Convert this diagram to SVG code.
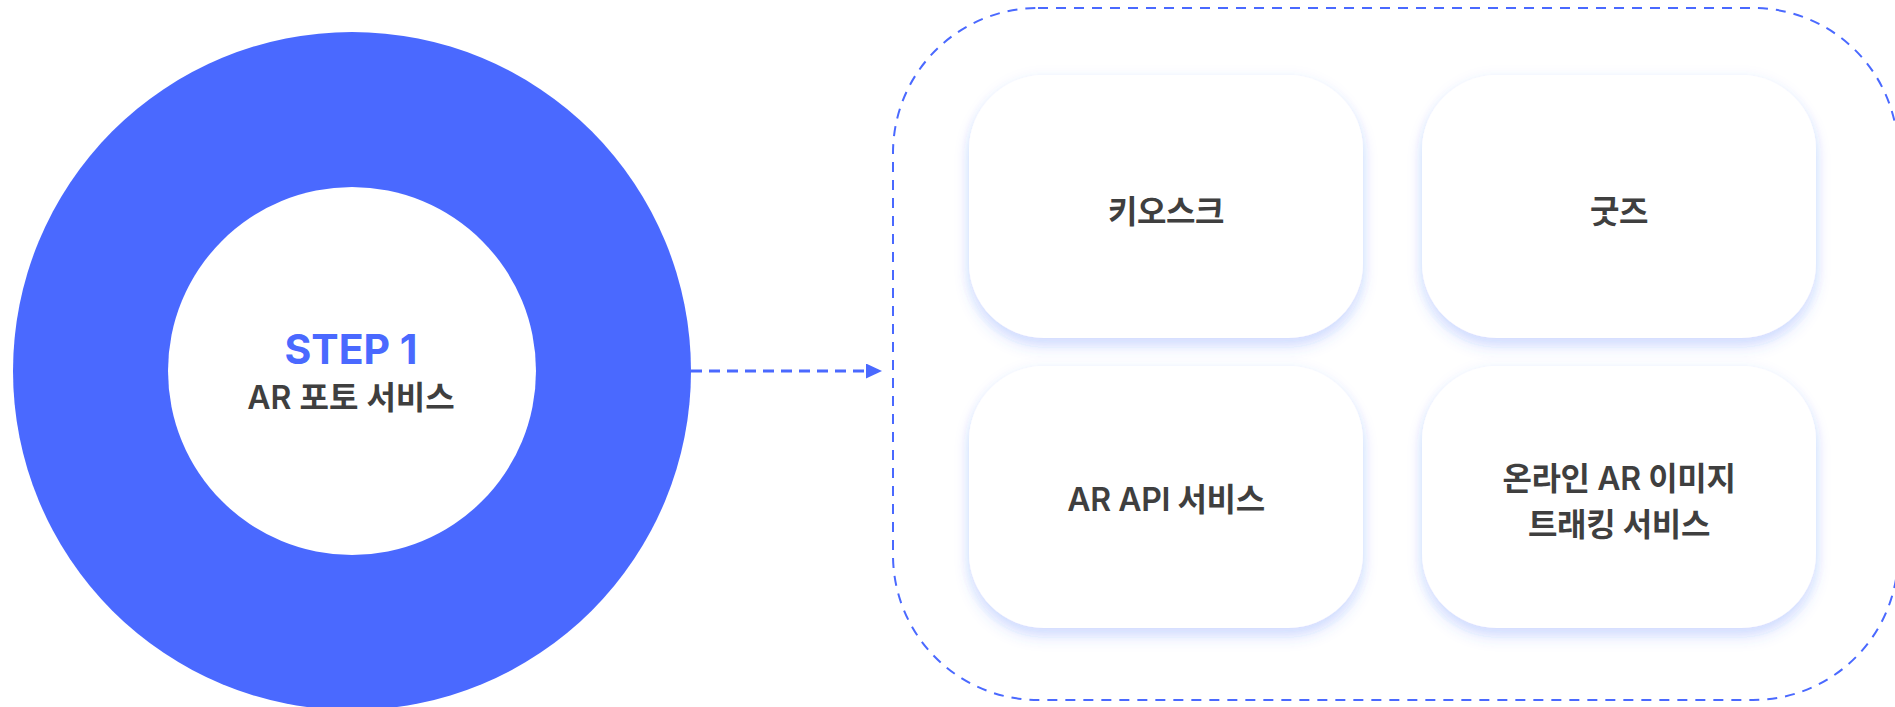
<svg xmlns="http://www.w3.org/2000/svg" width="1895" height="707" viewBox="0 0 1895 707">
<defs>
<filter id="cardShadow" x="-20%" y="-20%" width="140%" height="150%">
<feDropShadow dx="0" dy="0" stdDeviation="6" flood-color="#4a69ff" flood-opacity="0.06"/>
<feDropShadow dx="0" dy="9" stdDeviation="7" flood-color="#4a69ff" flood-opacity="0.2"/>
</filter>
<marker id="arrow" viewBox="0 0 16 15" refX="0" refY="7.5" markerWidth="16" markerHeight="15" markerUnits="userSpaceOnUse" orient="auto">
<polygon points="0,0 16,7.5 0,15" fill="#4a69ff"/>
</marker>
</defs>
<style>
.card{fill:#ffffff;filter:url(#cardShadow);}
.lbl{font-family:"Inter","Noto Sans CJK KR","Noto Sans",sans-serif;font-size:32px;font-weight:600;fill:#3f3f3f;text-anchor:middle;letter-spacing:-0.4px;}
.step{font-family:"Inter","Noto Sans",sans-serif;font-size:41px;font-weight:700;fill:#4a69ff;text-anchor:middle;}
.dash{fill:none;stroke:#4a69ff;stroke-width:2;stroke-dasharray:10 8;}
</style>
<rect width="1895" height="707" fill="#ffffff"/>
<g id="step1">
<circle cx="352" cy="371" r="339" fill="#4a69ff"/>
<circle cx="352" cy="371" r="184" fill="#ffffff"/>
<text class="step" x="351" y="364">STEP 1</text>
<text class="lbl" x="351" y="409" style="letter-spacing:0">AR 포토 서비스</text>
</g>
<g id="container">
<rect class="dash" x="893" y="8" width="1005" height="692" rx="145" ry="145"/>
</g>
<g id="connectors">
<line x1="691" y1="371" x2="866" y2="371" stroke="#4a69ff" stroke-width="3" stroke-dasharray="11 7" marker-end="url(#arrow)"/>
</g>
<g id="kiosk">
<rect class="card" x="969" y="75" width="394" height="263" rx="75" ry="75"/>
<text class="lbl" x="1166" y="223">키오스크</text>
</g>
<g id="goods">
<rect class="card" x="1422" y="75" width="394" height="263" rx="75" ry="75"/>
<text class="lbl" x="1619" y="223">굿즈</text>
</g>
<g id="ar-api">
<rect class="card" x="969" y="366" width="394" height="262" rx="75" ry="75"/>
<text class="lbl" x="1166" y="511">AR API 서비스</text>
</g>
<g id="online-ar">
<rect class="card" x="1422" y="366" width="394" height="262" rx="75" ry="75"/>
<text class="lbl" x="1619" y="490">온라인 AR 이미지</text>
<text class="lbl" x="1619" y="536">트래킹 서비스</text>
</g>
</svg>
